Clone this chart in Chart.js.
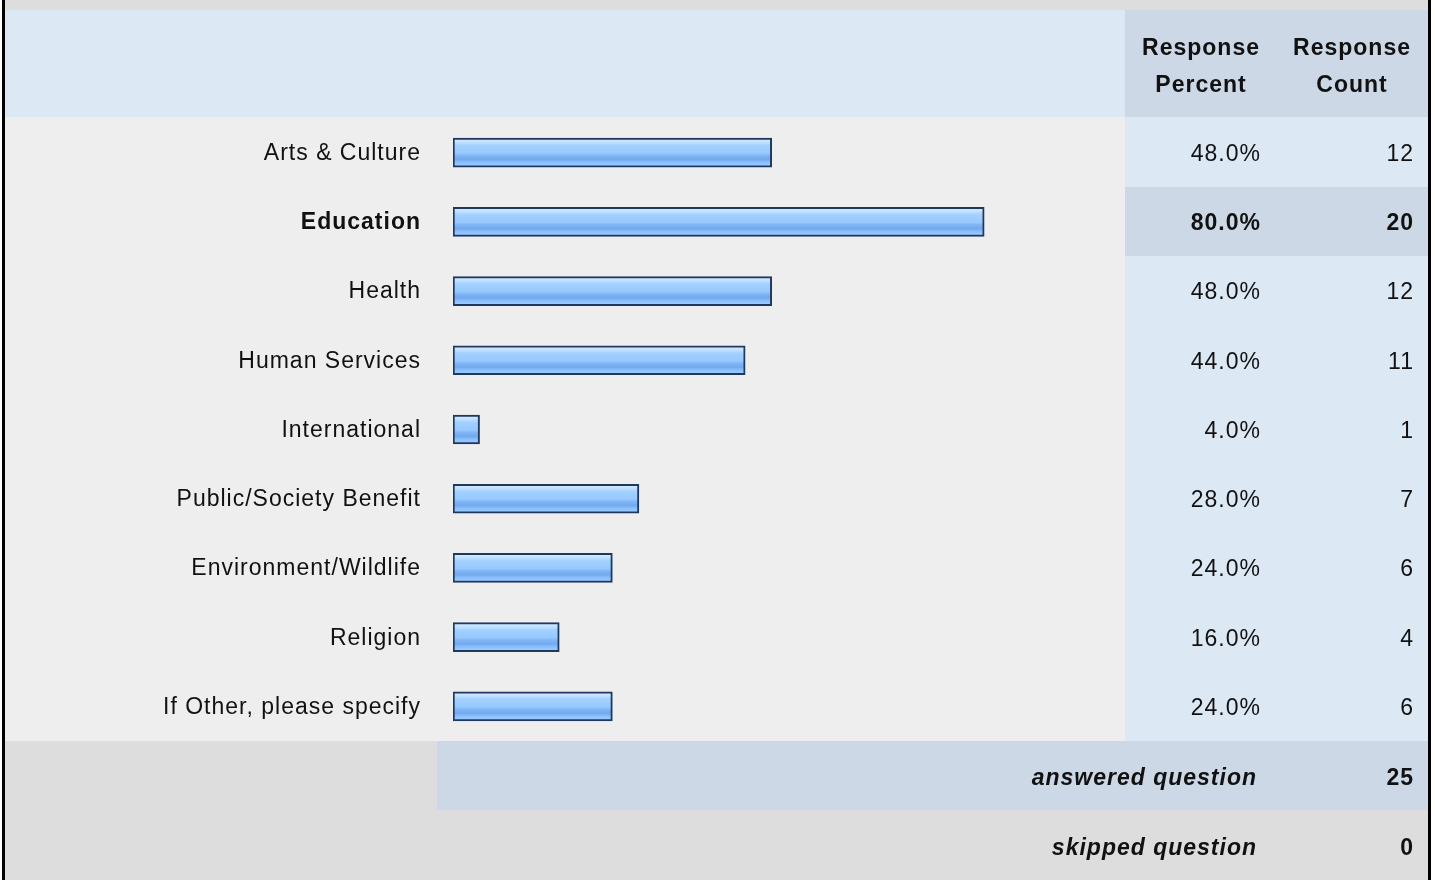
<!DOCTYPE html>
<html>
<head>
<meta charset="utf-8">
<script src="https://cdn.jsdelivr.net/npm/chart.js@4/dist/chart.umd.min.js"></script>
<style>
  html, body { margin: 0; padding: 0; background: #ffffff; }
  #survey-chart { display: block; }
</style>
</head>
<body>
<canvas id="survey-chart" width="1435" height="880"></canvas>
<script>
const categories = [
  'Arts & Culture',
  'Education',
  'Health',
  'Human Services',
  'International',
  'Public/Society Benefit',
  'Environment/Wildlife',
  'Religion',
  'If Other, please specify'
];
const responsePercent = [48.0, 80.0, 48.0, 44.0, 4.0, 28.0, 24.0, 16.0, 24.0];
const responseCount = [12, 20, 12, 11, 1, 7, 6, 4, 6];
const headerLines = [['Response', 'Percent'], ['Response', 'Count']];
const footerLabels = ['answered question', 'skipped question'];
const footerValues = [25, 0];
const boldRow = 1;

const FONT = 'Arial, "Liberation Sans", Helvetica, sans-serif';
const TEXT = '#111111';
const SPACING = '1px';

function barGradient(context) {
  const chart = context.chart;
  if (!chart.chartArea || !chart.scales.y) return '#99ccff';
  const mid = chart.scales.y.getPixelForValue(context.dataIndex);
  const top = mid - 14.5, bottom = mid + 14.5;
  const g = chart.ctx.createLinearGradient(0, top, 0, bottom);
  g.addColorStop(0, '#dceeff');
  g.addColorStop(0.14, '#c2e1ff');
  g.addColorStop(0.26, '#a2d0ff');
  g.addColorStop(0.52, '#97c9ff');
  g.addColorStop(0.6, '#80b6f4');
  g.addColorStop(0.74, '#73a9ed');
  g.addColorStop(0.82, '#86bdfb');
  g.addColorStop(1, '#a6d2ff');
  return g;
}

const tablePlugin = {
  id: 'surveyTable',
  beforeDraw(chart) {
    const { ctx, chartArea } = chart;
    const rowH = (chartArea.bottom - chartArea.top) / categories.length;
    const y = chart.scales.y;
    ctx.letterSpacing = SPACING;
    ctx.save();
    ctx.fillStyle = '#dddddd';
    ctx.fillRect(5, 0, 1423, 10);
    ctx.fillStyle = '#dde8f5';
    ctx.fillRect(5, 10, 1120, 107);
    ctx.fillStyle = '#ccd8e6';
    ctx.fillRect(1125, 10, 303, 107);
    ctx.fillStyle = '#eeeeee';
    ctx.fillRect(5, 117, 1120, 624);
    ctx.fillStyle = '#dde8f5';
    ctx.fillRect(1125, 117, 303, 624);
    ctx.fillStyle = '#ccd8e6';
    ctx.fillRect(1125, Math.round(y.getPixelForValue(boldRow) - rowH / 2), 303, Math.round(rowH));
    ctx.fillStyle = '#dddddd';
    ctx.fillRect(5, 741, 1423, chart.height - 741);
    ctx.fillStyle = '#ccd8e6';
    ctx.fillRect(437, 741, 991, 69);
    ctx.fillStyle = '#000000';
    ctx.fillRect(2, 0, 3, chart.height);
    ctx.fillRect(1428, 0, 3, chart.height);
    ctx.restore();
  },
  afterDraw(chart) {
    const { ctx } = chart;
    const y = chart.scales.y;
    ctx.save();
    ctx.letterSpacing = SPACING;
    ctx.fillStyle = TEXT;
    ctx.textBaseline = 'middle';

    // header
    ctx.font = 'bold 23px ' + FONT;
    ctx.textAlign = 'center';
    [1201, 1352].forEach((cx, i) => {
      ctx.fillText(headerLines[i][0], cx, 49);
      ctx.fillText(headerLines[i][1], cx, 86);
    });

    // value columns
    ctx.textAlign = 'right';
    categories.forEach((c, i) => {
      const cy = y.getPixelForValue(i) + 2;
      ctx.font = (i === boldRow ? 'bold ' : '') + '23px ' + FONT;
      ctx.fillText(responsePercent[i].toFixed(1) + '%', 1261, cy);
      ctx.fillText(String(responseCount[i]), 1414, cy);
    });

    // footer
    footerLabels.forEach((label, i) => {
      const cy = 779 + i * 70;
      ctx.font = 'italic bold 23px ' + FONT;
      ctx.fillText(label, 1257, cy);
      ctx.font = 'bold 23px ' + FONT;
      ctx.fillText(String(footerValues[i]), 1414, cy);
    });
    ctx.restore();
  }
};

new Chart(document.getElementById('survey-chart'), {
  type: 'bar',
  data: {
    labels: categories,
    datasets: [{
      label: 'Response Percent',
      data: responsePercent,
      backgroundColor: barGradient,
      borderColor: '#1e3860',
      borderWidth: 2,
      borderSkipped: false,
      barThickness: 29
    }]
  },
  options: {
    indexAxis: 'y',
    responsive: false,
    animation: false,
    layout: {
      padding: { left: 5, top: 118, right: 318, bottom: 139 }
    },
    plugins: {
      legend: { display: false },
      tooltip: { enabled: false }
    },
    scales: {
      x: { display: false, min: 0, max: 100 },
      y: {
        afterFit(scale) { scale.width = 448; },
        grid: { display: false, drawTicks: false },
        border: { display: false },
        ticks: {
          padding: 32,
          labelOffset: 1,
          color: TEXT,
          font: (ctx) => ({
            family: FONT,
            size: 23,
            weight: ctx.index === boldRow ? 'bold' : 'normal'
          })
        }
      }
    }
  },
  plugins: [tablePlugin]
});
</script>
</body>
</html>
